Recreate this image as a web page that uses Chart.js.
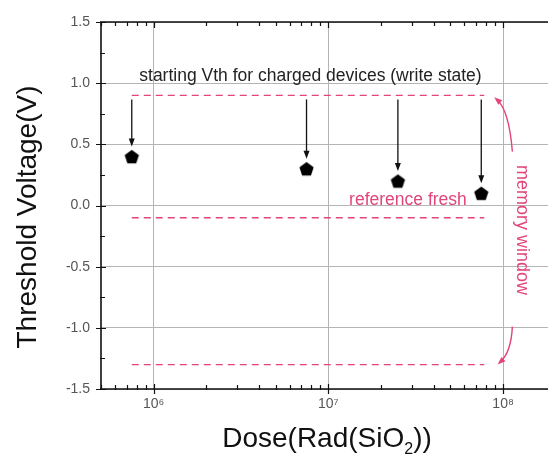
<!DOCTYPE html>
<html><head><meta charset="utf-8">
<script src="https://cdn.jsdelivr.net/npm/chart.js@4"></script>
<style>html,body{margin:0;padding:0;background:#fff}#wrap{width:548px;height:457px;position:relative}</style>
</head><body><div id="wrap"><canvas id="c" width="548" height="457"></canvas></div>
<script>
// Threshold voltage of charged devices after irradiation
const doses = [7.5e5, 7.5e6, 2.5e7, 7.5e7];
const thresholdVoltages = [0.4, 0.3, 0.2, 0.1];
// Reference levels (V): write state, fresh device, erased state
const writeStateLevel = 0.9;
const freshLevel = -0.1;
const eraseLevel = -1.3;
const levelSpan = [7.5e5, 7.8e7];
const xTicks = [1e6, 1e7, 1e8];
const xTickLabels = ['10⁶', '10⁷', '10⁸'];
const yTicks = [-1.5, -1.0, -0.5, 0.0, 0.5, 1.0, 1.5];

const RED = '#e2457a';
const FONT = '"Liberation Sans", Arial, sans-serif';

// black pentagon marker
function pentagon(r) {
  const s = Math.ceil(r * 2 + 2);
  const cv = document.createElement('canvas');
  cv.width = s; cv.height = s;
  const g = cv.getContext('2d');
  g.beginPath();
  for (let i = 0; i < 5; i++) {
    const a = -Math.PI / 2 + i * 2 * Math.PI / 5;
    const x = s / 2 + r * Math.cos(a), y = s / 2 + 0.8 + r * Math.sin(a);
    i ? g.lineTo(x, y) : g.moveTo(x, y);
  }
  g.closePath();
  g.fillStyle = '#000';
  g.fill();
  return cv;
}
const marker = pentagon(7.5);

function levelLine(v) {
  return {
    type: 'line',
    data: [{x: levelSpan[0], y: v}, {x: levelSpan[1], y: v}],
    borderColor: RED, borderWidth: 1.3, borderDash: [7, 5],
    pointRadius: 0, fill: false, order: 2
  };
}

function arrowHead(ctx, x, y, ang, len, wid) {
  ctx.save();
  ctx.translate(x, y); ctx.rotate(ang);
  ctx.beginPath();
  ctx.moveTo(0, 0); ctx.lineTo(-len, -wid / 2); ctx.lineTo(-len, wid / 2);
  ctx.closePath(); ctx.fill();
  ctx.restore();
}

const decor = {
  id: 'decor',
  afterDraw(chart) {
    const ctx = chart.ctx, X = chart.scales.x, Y = chart.scales.y, A = chart.chartArea;
    const px = v => X.getPixelForValue(v), py = v => Y.getPixelForValue(v);
    ctx.save();
    // frame lines
    ctx.strokeStyle = '#111'; ctx.lineWidth = 1.6;
    ctx.beginPath();
    ctx.moveTo(A.left, A.top); ctx.lineTo(A.left, A.bottom);
    ctx.moveTo(A.left - 1, A.bottom); ctx.lineTo(A.right, A.bottom);
    ctx.moveTo(A.left - 1, A.top); ctx.lineTo(A.right, A.top);
    ctx.stroke();
    // x ticks (major + log minor)
    ctx.lineWidth = 1.2;
    ctx.beginPath();
    for (let e = 5; e <= 8; e++) {
      for (let m = 1; m <= 9; m++) {
        const v = m * Math.pow(10, e);
        if (v < X.min || v > X.max) continue;
        const x = Math.round(px(v)) + 0.5;
        if (m === 1) {
          ctx.moveTo(x, A.bottom - 5); ctx.lineTo(x, A.bottom + 5);
          ctx.moveTo(x, A.top); ctx.lineTo(x, A.top + 6);
        } else {
          ctx.moveTo(x, A.bottom - 4); ctx.lineTo(x, A.bottom + 1);
          ctx.moveTo(x, A.top); ctx.lineTo(x, A.top + 4);
        }
      }
    }
    // y ticks
    for (let v = -1.5; v <= 1.5001; v += 0.25) {
      const y = Math.round(py(v)) + 0.5;
      const major = Math.abs(v * 2 - Math.round(v * 2)) < 1e-6;
      if (major) { ctx.moveTo(A.left - 5, y); ctx.lineTo(A.left + 5, y); }
      else { ctx.moveTo(A.left - 1, y); ctx.lineTo(A.left + 4, y); }
    }
    ctx.stroke();

    // arrows from write-state level down to each measured point
    ctx.strokeStyle = '#111'; ctx.fillStyle = '#111'; ctx.lineWidth = 1.3;
    doses.forEach((d, i) => {
      const x = px(d), y0 = py(writeStateLevel) + 4, y1 = py(thresholdVoltages[i]) - 10;
      ctx.beginPath(); ctx.moveTo(x, y0); ctx.lineTo(x, y1 - 6); ctx.stroke();
      arrowHead(ctx, x, y1, Math.PI / 2, 8, 6);
    });

    // curved red arrows marking the memory window
    ctx.strokeStyle = RED; ctx.fillStyle = RED; ctx.lineWidth = 1.4;
    const u0 = {x: px(1.13e8), y: py(0.44)}, u1 = {x: px(8.9e7), y: py(0.885)};
    const uc = {x: px(1.08e8), y: py(0.78)};
    ctx.beginPath(); ctx.moveTo(u0.x, u0.y); ctx.quadraticCurveTo(uc.x, uc.y, u1.x + 3, u1.y + 3); ctx.stroke();
    arrowHead(ctx, u1.x, u1.y, Math.atan2(u1.y - uc.y, u1.x - uc.x), 8, 6);
    const l0 = {x: px(1.13e8), y: py(-0.99)}, l1 = {x: px(9.3e7), y: py(-1.3)};
    const lc = {x: px(1.11e8), y: py(-1.2)};
    ctx.beginPath(); ctx.moveTo(l0.x, l0.y); ctx.quadraticCurveTo(lc.x, lc.y, l1.x + 3, l1.y - 3); ctx.stroke();
    arrowHead(ctx, l1.x, l1.y, Math.atan2(l1.y - lc.y, l1.x - lc.x), 8, 6);

    // annotation texts
    ctx.textBaseline = 'middle';
    ctx.fillStyle = '#222'; ctx.font = '17.5px ' + FONT; ctx.textAlign = 'center';
    ctx.fillText('starting Vth for charged devices (write state)', px(7.9e6), py(1.06));
    ctx.fillStyle = RED; ctx.textAlign = 'right';
    ctx.fillText('reference fresh', px(6.2e7), py(0.04));
    ctx.font = '18px ' + FONT;
    ctx.save();
    ctx.translate(px(1.28e8), py(-0.2)); ctx.rotate(Math.PI / 2);
    ctx.textAlign = 'center';
    ctx.fillText('memory window', 0, 0);
    ctx.restore();

    // axis titles
    ctx.fillStyle = '#111'; ctx.font = '28px ' + FONT;
    ctx.save();
    ctx.translate(28, 217); ctx.rotate(-Math.PI / 2);
    ctx.textAlign = 'center';
    ctx.fillText('Threshold Voltage(V)', 0, 0);
    ctx.restore();
    const t1 = 'Dose(Rad(SiO', t2 = '2', t3 = '))';
    ctx.font = '28px ' + FONT; const w1 = ctx.measureText(t1).width, w3 = ctx.measureText(t3).width;
    ctx.font = '16px ' + FONT; const w2 = ctx.measureText(t2).width;
    let x = 327 - (w1 + w2 + w3) / 2; const yb = 439;
    ctx.textAlign = 'left';
    ctx.font = '28px ' + FONT; ctx.fillText(t1, x, yb); x += w1;
    ctx.font = '16px ' + FONT; ctx.fillText(t2, x, yb + 11); x += w2;
    ctx.font = '28px ' + FONT; ctx.fillText(t3, x, yb);
    ctx.restore();
  }
};

new Chart(document.getElementById('c'), {
  type: 'scatter',
  data: {
    datasets: [
      {
        type: 'scatter',
        data: doses.map((d, i) => ({x: d, y: thresholdVoltages[i]})),
        pointStyle: marker, pointRadius: 7.5, order: 1
      },
      levelLine(writeStateLevel),
      levelLine(freshLevel),
      levelLine(eraseLevel)
    ]
  },
  options: {
    responsive: false, animation: false,
    layout: {autoPadding: false, padding: {top: 22, right: 0, left: 0, bottom: 0}},
    plugins: {legend: {display: false}, tooltip: {enabled: false}},
    scales: {
      x: {
        type: 'logarithmic', min: 5e5, max: 1.807e8,
        afterFit: s => { s.height = 68; s.paddingLeft = 0; s.paddingRight = 0; },
        afterBuildTicks: s => { s.ticks = xTicks.map(v => ({value: v})); },
        grid: {color: '#b4b4b4', lineWidth: 1, drawTicks: false},
        border: {display: false},
        ticks: {
          padding: 7, color: '#555', font: {family: FONT, size: 14},
          maxRotation: 0, autoSkip: false,
          callback: v => xTickLabels[xTicks.indexOf(v)] ?? ''
        }
      },
      y: {
        min: -1.5, max: 1.5,
        afterFit: s => { s.width = 101; s.paddingTop = 0; s.paddingBottom = 0; },
        afterBuildTicks: s => { s.ticks = yTicks.map(v => ({value: v})); },
        grid: {color: '#b4b4b4', lineWidth: 1, drawTicks: false},
        border: {display: false},
        ticks: {
          padding: 11, color: '#555', font: {family: FONT, size: 14},
          callback: v => Number(v).toFixed(1)
        }
      }
    }
  },
  plugins: [decor]
});
</script>
</body></html>
